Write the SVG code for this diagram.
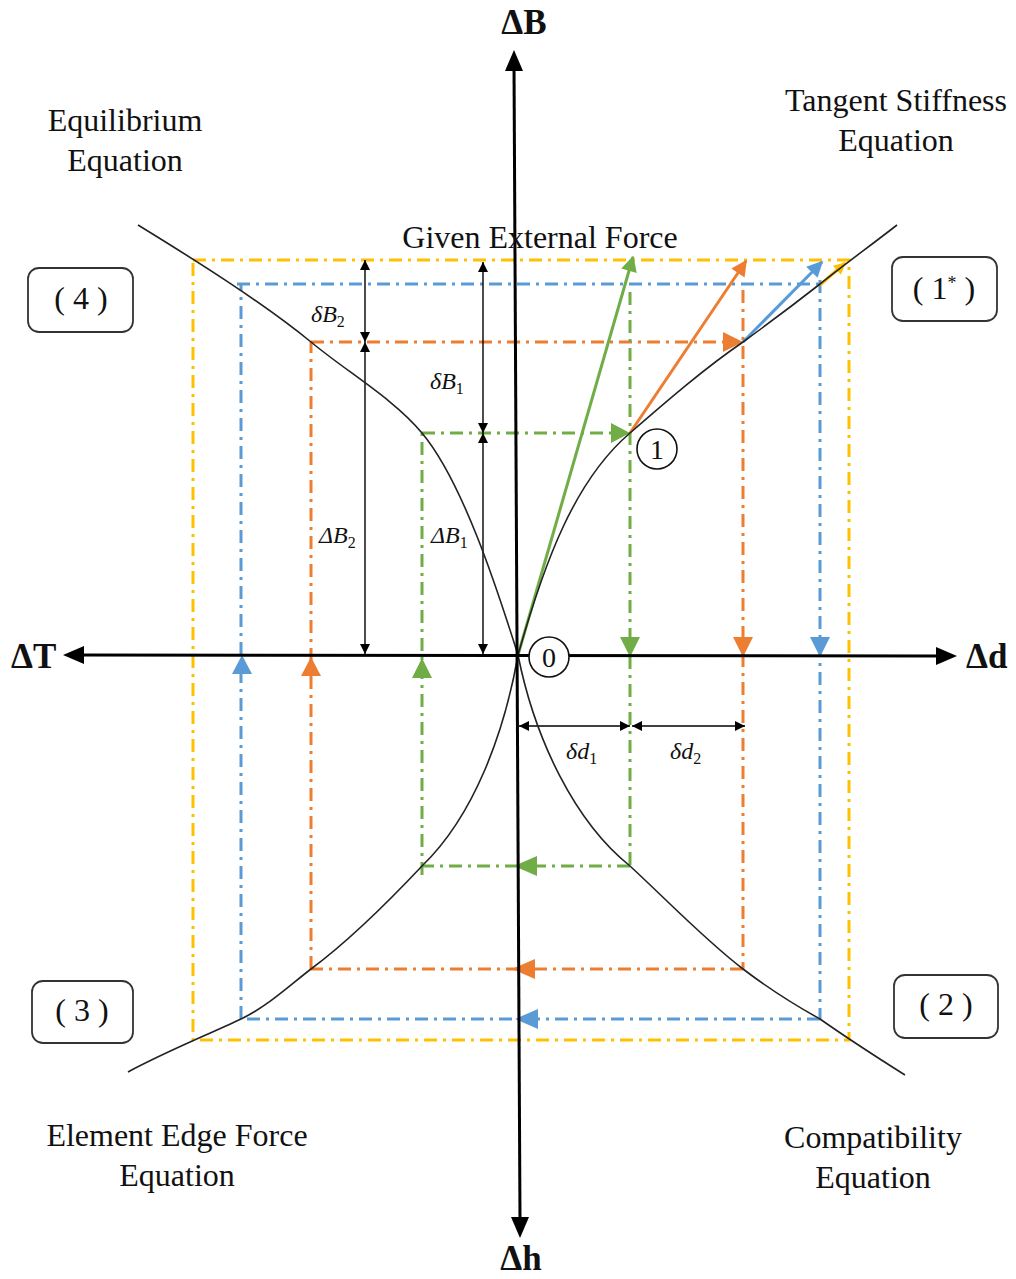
<svg xmlns="http://www.w3.org/2000/svg" width="1016" height="1279" viewBox="0 0 1016 1279">
<defs>
<style>
.txt{font-family:"Liberation Serif","Times New Roman",serif;fill:#111;}
.lbl{font-size:32px;text-anchor:middle;}
.axl{font-size:35px;font-weight:bold;}
.math{font-family:"Liberation Serif",serif;font-style:italic;font-size:24px;fill:#111;}
.sub{font-size:16px;font-style:normal;}
.box{fill:#fff;stroke:#333;stroke-width:1.8;}
.dd{fill:none;stroke-width:3;stroke-dasharray:13 6 3 6;}
.y{stroke:#FFC000;} .b{stroke:#5B9BD5;} .o{stroke:#ED7D31;} .g{stroke:#70AD47;}
.fy{fill:#FFC000;} .fb{fill:#5B9BD5;} .fo{fill:#ED7D31;} .fg{fill:#70AD47;}
.curve{fill:none;stroke:#222;stroke-width:1.6;}
.axis{stroke:#000;stroke-width:3;fill:none;}
.dim{stroke:#000;stroke-width:1.4;fill:none;marker-start:url(#dh);marker-end:url(#dh);}
.solid{fill:none;stroke-width:3;}
</style>
<marker id="dh" viewBox="0 0 10 10" refX="10" refY="5" markerWidth="10" markerHeight="10" markerUnits="userSpaceOnUse" orient="auto-start-reverse"><path d="M0,0 L10,5 L0,10 Z" fill="#000"/></marker>
<marker id="mg" viewBox="0 0 10 10" refX="9" refY="5" markerWidth="20" markerHeight="16" markerUnits="userSpaceOnUse" orient="auto"><path d="M0,0 L10,5 L0,10 Z" fill="#70AD47"/></marker>
<marker id="mo" viewBox="0 0 10 10" refX="9" refY="5" markerWidth="20" markerHeight="16" markerUnits="userSpaceOnUse" orient="auto"><path d="M0,0 L10,5 L0,10 Z" fill="#ED7D31"/></marker>
<marker id="mb" viewBox="0 0 10 10" refX="9" refY="5" markerWidth="20" markerHeight="16" markerUnits="userSpaceOnUse" orient="auto"><path d="M0,0 L10,5 L0,10 Z" fill="#5B9BD5"/></marker>
<marker id="my" viewBox="0 0 10 10" refX="9" refY="5" markerWidth="14" markerHeight="12" markerUnits="userSpaceOnUse" orient="auto"><path d="M0,0 L10,5 L0,10 Z" fill="#FFC000"/></marker>
</defs>
<rect width="1016" height="1279" fill="#fff"/>

<g id="connectors">
  <path class="dd y" d="M193,260 H849 V1040 H193 Z"/>
  <path class="dd b" d="M237,284 H820"/>
  <path class="dd b" d="M820,280 V1019"/>
  <path class="dd b" d="M820,1019 H241"/>
  <path class="dd b" d="M241,1019 V284"/>
  <path class="dd o" d="M311,342 H730"/>
  <path class="dd o" d="M743,290 V969"/>
  <path class="dd o" d="M743,969 H311"/>
  <path class="dd o" d="M311,969 V342"/>
  <path class="dd g" d="M422,433 H618"/>
  <path class="dd g" d="M630,292 V866"/>
  <path class="dd g" d="M630,866 H422"/>
  <path class="dd g" d="M422,875 V433"/>

  <line class="solid g" x1="518" y1="655" x2="633" y2="257" marker-end="url(#mg)"/>
  <line class="solid o" x1="630" y1="433" x2="746" y2="261" marker-end="url(#mo)"/>
  <line class="solid b" x1="743" y1="342" x2="822" y2="262" marker-end="url(#mb)"/>
  <line class="solid y" x1="820" y1="285" x2="845" y2="263" marker-end="url(#my)"/>

  <polygon class="fg" points="630,433 611,423 611,443"/>
  <polygon class="fo" points="743,342 723,332 723,352"/>
  <polygon class="fg" points="630,657 620,637 640,637"/>
  <polygon class="fo" points="743,657 733,637 753,637"/>
  <polygon class="fb" points="820,657 810,637 830,637"/>
  <polygon class="fg" points="514,866 537,856 537,876"/>
  <polygon class="fo" points="512,969 535,959 535,979"/>
  <polygon class="fb" points="515,1019 538,1009 538,1029"/>
  <polygon class="fg" points="422,658 412,678 432,678"/>
  <polygon class="fo" points="311,657 301,676 321,676"/>
  <polygon class="fb" points="242,655 232,674 252,674"/>

  <line class="dim" x1="365" y1="260" x2="365" y2="342"/>
  <line class="dim" x1="365" y1="342" x2="365" y2="654"/>
  <line class="dim" x1="483" y1="262" x2="483" y2="433"/>
  <line class="dim" x1="483" y1="433" x2="483" y2="654"/>
  <line class="dim" x1="519" y1="726" x2="630" y2="726"/>
  <line class="dim" x1="632" y1="726" x2="745" y2="726"/>
</g>

<g id="curves">
  <path class="curve" d="M518,655 C545,560 575,480 630,433 C668,400 705,368 743,342 C772,321 797,302 820,284 C845,264 870,246 897,225"/>
  <path class="curve" d="M138,225 C195,260 262,302 311,342 C347,372 394,399 422,433 C462,481 496,585 518,655"/>
  <path class="curve" d="M518,655 C505,730 475,815 422,866 C390,900 350,940 311,969 C290,985 268,1006 241,1019 C205,1036 165,1052 128,1072"/>
  <path class="curve" d="M518,655 C535,740 575,822 630,866 C670,903 705,940 743,969 C768,988 793,1004 820,1019 C850,1040 878,1058 905,1075"/>
</g>

<g id="axes">
  <line class="axis" x1="514" y1="66" x2="520" y2="1220"/>
  <polygon points="514,50 505,71 523,71" fill="#000"/>
  <polygon points="520,1238 511,1217 529,1217" fill="#000"/>
  <line class="axis" x1="80" y1="655" x2="940" y2="656"/>
  <polygon points="63,655 84,646 84,664" fill="#000"/>
  <polygon points="957,656 936,647 936,665" fill="#000"/>
  <text class="txt axl" x="524" y="34" text-anchor="middle">ΔB</text>
  <text class="txt axl" x="11" y="668">ΔT</text>
  <text class="txt axl" x="966" y="668">Δd</text>
  <text class="txt axl" x="521" y="1270" text-anchor="middle" font-size="34">Δh</text>
</g>

<g id="node-equilibrium">
  <text class="txt lbl" x="125" y="131">Equilibrium</text>
  <text class="txt lbl" x="125" y="171">Equation</text>
</g>
<g id="node-tangent">
  <text class="txt lbl" x="896" y="111">Tangent Stiffness</text>
  <text class="txt lbl" x="896" y="151">Equation</text>
</g>
<g id="node-edge">
  <text class="txt lbl" x="177" y="1146">Element Edge Force</text>
  <text class="txt lbl" x="177" y="1186">Equation</text>
</g>
<g id="node-compat">
  <text class="txt lbl" x="873" y="1148">Compatibility</text>
  <text class="txt lbl" x="873" y="1188">Equation</text>
</g>
<g id="node-given">
  <text class="txt lbl" x="540" y="248">Given External Force</text>
</g>

<g id="node-box4">
  <rect class="box" x="28" y="268" width="105" height="64" rx="11"/>
  <text class="txt lbl" x="81" y="309" font-size="28">( 4 )</text>
</g>
<g id="node-box1s">
  <rect class="box" x="892" y="257" width="105" height="64" rx="11"/>
  <text class="txt lbl" x="944" y="299" font-size="28">( 1<tspan font-size="18" dy="-10">*</tspan><tspan dy="10"> )</tspan></text>
</g>
<g id="node-box3">
  <rect class="box" x="32" y="981" width="101" height="62" rx="11"/>
  <text class="txt lbl" x="82" y="1021" font-size="28">( 3 )</text>
</g>
<g id="node-box2">
  <rect class="box" x="894" y="975" width="104" height="63" rx="11"/>
  <text class="txt lbl" x="946" y="1015" font-size="28">( 2 )</text>
</g>

<g id="node-0">
  <circle cx="549" cy="657" r="20" fill="#fff" stroke="#111" stroke-width="1.6"/>
  <text class="txt" x="549" y="667" font-size="28" text-anchor="middle">0</text>
</g>
<g id="node-1">
  <circle cx="657" cy="449" r="20" fill="#fff" stroke="#111" stroke-width="1.6"/>
  <text class="txt" x="657" y="459" font-size="28" text-anchor="middle">1</text>
</g>

<g id="dim-labels">
  <text class="math" x="311" y="322">δB<tspan class="sub" dy="5">2</tspan></text>
  <text class="math" x="430" y="389">δB<tspan class="sub" dy="5">1</tspan></text>
  <text class="math" x="319" y="543">ΔB<tspan class="sub" dy="5">2</tspan></text>
  <text class="math" x="431" y="543">ΔB<tspan class="sub" dy="5">1</tspan></text>
  <text class="math" x="566" y="759">δd<tspan class="sub" dy="5">1</tspan></text>
  <text class="math" x="670" y="759">δd<tspan class="sub" dy="5">2</tspan></text>
</g>
</svg>
